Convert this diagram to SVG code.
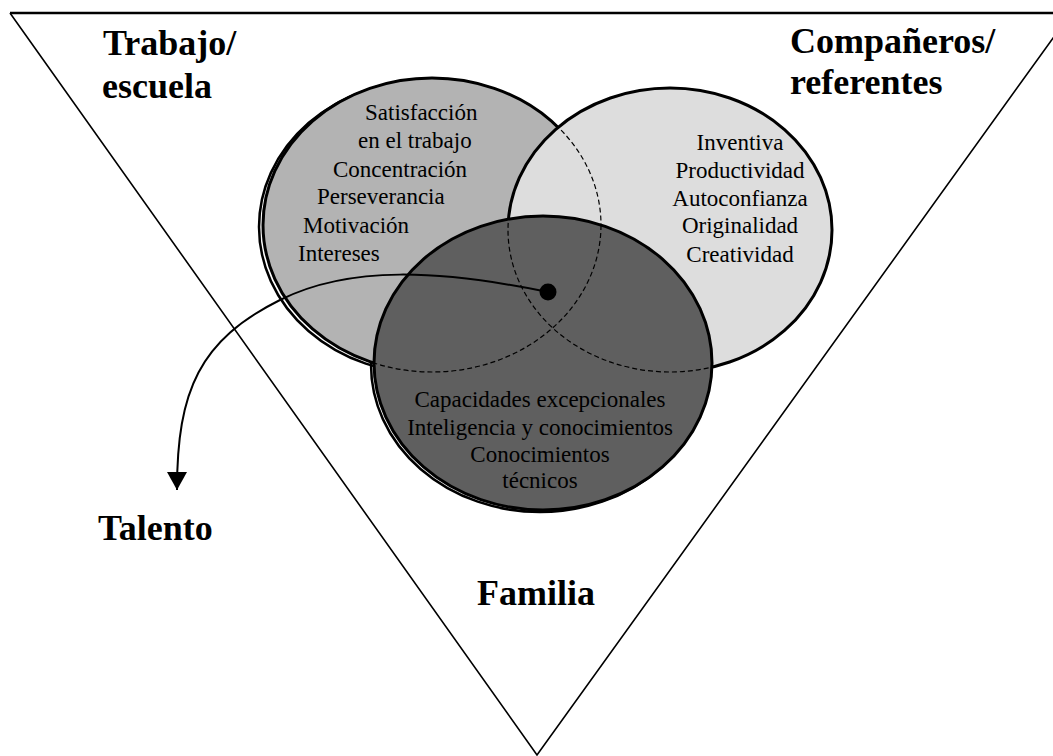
<svg xmlns="http://www.w3.org/2000/svg" width="1053" height="756" viewBox="0 0 1053 756">
  <style>
    .head { font-family: "Liberation Serif", "Times New Roman", serif; font-weight: bold; font-size: 36px; fill: #000; }
    .body { font-family: "Liberation Serif", "Times New Roman", serif; font-size: 23px; fill: #000; }
    .outline { stroke: #000; stroke-width: 3; }
    .shadow { fill: none; stroke: #000; stroke-width: 2.5; }
    .hidden { fill: none; stroke: #000; stroke-width: 1.2; stroke-dasharray: 5 3; }
  </style>
  <defs>
    <marker id="arrow" viewBox="0 0 18 20" refX="18" refY="10" markerWidth="18" markerHeight="20" markerUnits="userSpaceOnUse" orient="auto">
      <path d="M0,0 L18,10 L0,20 z" fill="#000"/>
    </marker>
  </defs>
  <rect width="1053" height="756" fill="#fff"/>

  <g id="triangle">
    <path d="M10,13 L1071,13" stroke="#000" stroke-width="2.5" fill="none"/>
    <path d="M10,13 L537,755 L1071,13" stroke="#000" stroke-width="1.6" fill="none"/>
  </g>

  <g id="shadows">
    <ellipse cx="540" cy="365" rx="169" ry="147" class="shadow"/>
    <ellipse cx="428" cy="227" rx="169" ry="147" class="shadow"/>
  </g>

  <g id="node-trabajo">
    <ellipse cx="432" cy="225" rx="169" ry="147" fill="#b3b3b3" class="outline"/>
  </g>
  <g id="node-companeros">
    <ellipse cx="670" cy="230" rx="162" ry="142" fill="#dddddd" class="outline"/>
  </g>
  <g id="node-familia">
    <ellipse cx="543" cy="363" rx="169" ry="147" fill="#5f5f5f" class="outline"/>
  </g>

  <g id="hidden-edges">
    <ellipse cx="432" cy="225" rx="169" ry="147" class="hidden"/>
    <ellipse cx="670" cy="230" rx="162" ry="142" class="hidden"/>
  </g>

  <g id="connectors">
    <path d="M548,292 C440,270 350,265 280,300 C200,340 177,390 177,490" fill="none" stroke="#000" stroke-width="2" marker-end="url(#arrow)"/>
    <circle cx="548" cy="292" r="8.5" fill="#000"/>
  </g>

  <g id="text-trabajo">
    <text class="body" x="365" y="120">Satisfacción</text>
    <text class="body" x="358" y="148">en el trabajo</text>
    <text class="body" x="333" y="177">Concentración</text>
    <text class="body" x="317" y="204">Perseverancia</text>
    <text class="body" x="303" y="233">Motivación</text>
    <text class="body" x="298" y="261">Intereses</text>
  </g>
  <g id="text-companeros" text-anchor="middle">
    <text class="body" x="740" y="150">Inventiva</text>
    <text class="body" x="740" y="178">Productividad</text>
    <text class="body" x="740" y="206">Autoconfianza</text>
    <text class="body" x="740" y="233">Originalidad</text>
    <text class="body" x="740" y="262">Creatividad</text>
  </g>
  <g id="text-familia" text-anchor="middle">
    <text class="body" x="540" y="407">Capacidades excepcionales</text>
    <text class="body" x="540" y="435">Inteligencia y conocimientos</text>
    <text class="body" x="540" y="462">Conocimientos</text>
    <text class="body" x="540" y="488">técnicos</text>
  </g>

  <g id="labels">
    <text class="head" x="103" y="55">Trabajo/</text>
    <text class="head" x="102" y="98">escuela</text>
    <text class="head" x="790" y="53">Compañeros/</text>
    <text class="head" x="790" y="94">referentes</text>
    <text class="head" x="98" y="540">Talento</text>
    <text class="head" x="477" y="605">Familia</text>
  </g>
</svg>
